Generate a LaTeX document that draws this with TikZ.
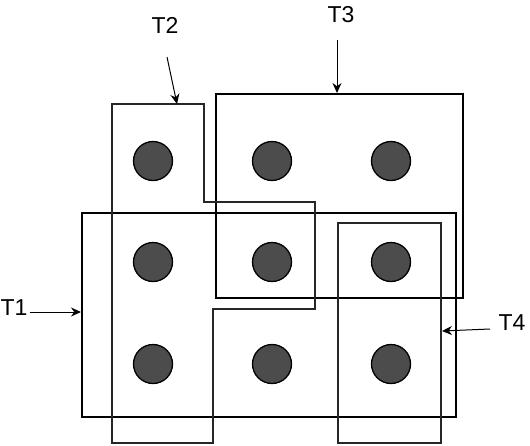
\documentclass[tikz,border=0pt]{standalone}
\usepackage{fontspec}
\setmainfont{Liberation Sans}
\usetikzlibrary{arrows.meta}
\begin{document}
\begin{tikzpicture}[x=1pt,y=-1pt,
  dot/.style={circle,draw=black,line width=1.3pt,fill=black!70,minimum size=39pt,inner sep=0pt},
  lbl/.style={font=\fontsize{23}{27}\selectfont,inner sep=0pt},
  thick box/.style={draw=black,line width=2pt},
  thin box/.style={draw=black!85,line width=1.6pt},
  pointer/.style={draw=black,line width=1pt,-{Stealth[length=10pt,width=9pt]}}]
\useasboundingbox (0,0) rectangle (530,445);
% groups
\draw[thick box] (82,213) rectangle (456,417);
\draw[thick box] (216,94) rectangle (463,298);
\draw[thin box] (112,104) -- (204,104) -- (204,202) -- (315,202) -- (315,309) -- (213,309) -- (213,443) -- (112,443) -- cycle;
\draw[thin box] (338,223) rectangle (441,443);
% dots
\foreach \i/\x in {1/153,2/272,3/391}{
  \foreach \j/\y in {1/161,2/262,3/364}{
    \node[dot] (c\i\j) at (\x,\y) {};
  }
}
% targets
\coordinate (t1) at (81,312);
\coordinate (t2) at (177,104);
\coordinate (t3) at (337,93);
\coordinate (t4) at (442,331);
% labels
\node[lbl] (L1) at (14,308) {T1};
\node[lbl] (L2) at (165,25) {T2};
\node[lbl] (L3) at (341,15) {T3};
\node[lbl] (L4) at (512,323) {T4};
\draw[pointer] (30,312) -- (t1);
\draw[pointer] (167,57) -- (t2);
\draw[pointer] (337,40) -- (t3);
\draw[pointer] (490,329) -- (t4);
\end{tikzpicture}
\end{document}
